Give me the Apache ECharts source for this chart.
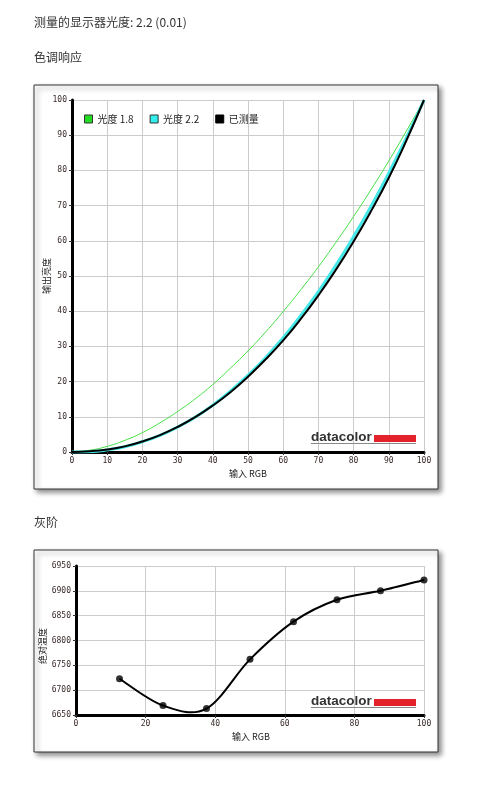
<!DOCTYPE html>
<html>
<head>
<meta charset="utf-8">
<script src="https://cdn.jsdelivr.net/npm/echarts@6/dist/echarts.min.js"></script>
<style>
html,body{margin:0;padding:0;background:#fff;}
#c{width:485px;height:790px;}
</style>
</head>
<body>
<div id="c"></div>
<script>
// Tone response chart data
const toneX = [0,5,10,15,20,25,30,35,40,45,50,55,60,65,70,75,80,85,90,95,100];
const gamma18 = [0,0.5,1.6,3.3,5.5,8.3,11.5,15.1,19.2,23.8,28.7,34.1,39.9,46.1,52.6,59.6,66.9,74.6,82.7,91.2,100];
const gamma22 = [0,0.1,0.6,1.5,2.9,4.7,7.1,9.9,13.3,17.3,21.8,26.8,32.5,38.8,45.6,53.1,61.2,69.9,79.3,89.3,100];
const measured = [0,0.2,0.7,1.6,3.0,4.8,7.1,9.9,13.2,17.0,21.4,26.3,31.7,37.8,44.5,51.8,59.8,68.5,77.9,88.5,100];
const legendNames = ['光度 1.8','光度 2.2','已测量'];

// Grayscale chart data
const grayX = [12.5,25,37.5,50,62.5,75,87.5,100];
const grayK = [6723,6669,6663,6762,6838,6882,6900,6922];

const chart = echarts.init(document.getElementById('c'));
const pair = (xs, ys) => xs.map((x,i)=>[x, ys[i]]);
const tickFont = {fontSize:8, color:'#3a2a2a', fontFamily:'DejaVu Sans Mono'};

function logo(x, yTop){
  return [
    {type:'text', left:x, top:yTop-3, z:5, style:{text:'datacolor', font:'bold 13.5px "Liberation Sans"', fill:'#333'}},
    {type:'rect', z:5, shape:{x:374, y:yTop+2, width:42, height:7}, style:{fill:'#e3222c'}},
    {type:'line', z:5, shape:{x1:311, y1:yTop+10.5, x2:416, y2:yTop+10.5}, style:{stroke:'#888', lineWidth:1}}
  ];
}

// Catmull-Rom curve through the grayscale points, drawn in pixel space via api.coord
function renderGrayCurve(params, api){
  if (params.dataIndex !== 0) return null;
  const pts = grayX.map((x,i)=>api.coord([x, grayK[i]]));
  const n = pts.length;
  let path = 'M' + pts[0][0] + ' ' + pts[0][1];
  for (let i = 0; i < n - 1; i++) {
    const p0 = pts[Math.max(i-1,0)], p1 = pts[i], p2 = pts[i+1], p3 = pts[Math.min(i+2,n-1)];
    const c1x = p1[0] + (p2[0]-p0[0])/6, c1y = p1[1] + (p2[1]-p0[1])/6;
    const c2x = p2[0] - (p3[0]-p1[0])/6, c2y = p2[1] - (p3[1]-p1[1])/6;
    path += ' C' + c1x + ' ' + c1y + ' ' + c2x + ' ' + c2y + ' ' + p2[0] + ' ' + p2[1];
  }
  return {type:'path', shape:{pathData:path}, style:{fill:'none', stroke:'#000', lineWidth:2}};
}

const option = {
  animation:false,
  backgroundColor:'#fff',
  graphic:[
    {type:'rect', z:0, shape:{x:34, y:85, width:404, height:404}, style:{fill:'#fff', stroke:'#333', lineWidth:1, shadowBlur:5, shadowOffsetX:3, shadowOffsetY:3, shadowColor:'rgba(0,0,0,0.45)'}},
    {type:'rect', z:0, shape:{x:34, y:550, width:404, height:202}, style:{fill:'#fff', stroke:'#333', lineWidth:1, shadowBlur:5, shadowOffsetX:3, shadowOffsetY:3, shadowColor:'rgba(0,0,0,0.45)'}},
    {type:'text', left:34, top:16, style:{text:'测量的显示器光度: 2.2 (0.01)', font:'12px "Noto Sans CJK SC"', fill:'#333'}},
    {type:'text', left:34, top:51, style:{text:'色调响应', font:'12px "Noto Sans CJK SC"', fill:'#333'}},
    {type:'text', left:34, top:516, style:{text:'灰阶', font:'12px "Noto Sans CJK SC"', fill:'#333'}},
    {type:'text', x:248, y:474, z:5, style:{text:'输入 RGB', font:'9px "Noto Sans CJK SC"', fill:'#222', align:'center', verticalAlign:'middle'}},
    {type:'text', x:251, y:737, z:5, style:{text:'输入 RGB', font:'9px "Noto Sans CJK SC"', fill:'#222', align:'center', verticalAlign:'middle'}},
    {type:'text', x:47, y:276, rotation:Math.PI/2, z:5, style:{text:'输出亮度', font:'9px "Noto Sans CJK SC"', fill:'#222', align:'center', verticalAlign:'middle'}},
    {type:'text', x:43, y:646, rotation:Math.PI/2, z:5, style:{text:'绝对温度', font:'9px "Noto Sans CJK SC"', fill:'#222', align:'center', verticalAlign:'middle'}}
  ].concat(logo(311, 433)).concat(logo(311, 697)),
  legend:{
    left:79, top:109, itemWidth:8, itemHeight:8, itemGap:16, icon:'rect',
    textStyle:{fontSize:10, color:'#222', fontFamily:'"Noto Sans CJK SC"'},
    data:[
      {name:legendNames[0], itemStyle:{color:'#22dd22', borderColor:'#333', borderWidth:1}},
      {name:legendNames[1], itemStyle:{color:'#33eeee', borderColor:'#333', borderWidth:1}},
      {name:legendNames[2], itemStyle:{color:'#000', borderColor:'#000', borderWidth:1}}
    ]
  },
  grid:[
    {left:72, top:100, width:352, height:352, show:true, borderColor:'#666', borderWidth:1, backgroundColor:'transparent'},
    {left:76, top:566, width:348, height:149, show:true, borderColor:'#666', borderWidth:1, backgroundColor:'transparent'}
  ],
  xAxis:[
    {gridIndex:0, type:'value', min:0, max:100, interval:10,
     axisLine:{lineStyle:{color:'#000', width:3}}, axisTick:{length:3, lineStyle:{color:'#333'}},
     axisLabel:Object.assign({margin:5}, tickFont), splitLine:{lineStyle:{color:'#ccc'}}},
    {gridIndex:1, type:'value', min:0, max:100, interval:20,
     axisLine:{lineStyle:{color:'#000', width:3}}, axisTick:{length:3, lineStyle:{color:'#333'}},
     axisLabel:Object.assign({margin:5}, tickFont), splitLine:{lineStyle:{color:'#ccc'}}}
  ],
  yAxis:[
    {gridIndex:0, type:'value', min:0, max:100, interval:10,
     axisLine:{show:true, lineStyle:{color:'#000', width:3}}, axisTick:{show:true, length:3, lineStyle:{color:'#333'}},
     axisLabel:Object.assign({margin:5}, tickFont), splitLine:{lineStyle:{color:'#ccc'}}},
    {gridIndex:1, type:'value', min:6650, max:6950, interval:50,
     axisLine:{show:true, lineStyle:{color:'#000', width:3}}, axisTick:{show:true, length:3, lineStyle:{color:'#333'}},
     axisLabel:Object.assign({margin:5, formatter:v=>String(v)}, tickFont), splitLine:{lineStyle:{color:'#ccc'}}}
  ],
  series:[
    {name:legendNames[0], type:'line', xAxisIndex:0, yAxisIndex:0, smooth:true, symbol:'none',
     data:pair(toneX, gamma18), lineStyle:{color:'#44e044', width:1}, itemStyle:{color:'#22dd22'}},
    {name:legendNames[1], type:'line', xAxisIndex:0, yAxisIndex:0, smooth:true, symbol:'none',
     data:pair(toneX, gamma22), lineStyle:{color:'#44e8e8', width:3}, itemStyle:{color:'#33eeee'}},
    {name:legendNames[2], type:'line', xAxisIndex:0, yAxisIndex:0, smooth:true, symbol:'none',
     data:pair(toneX, measured), lineStyle:{color:'#000', width:2}, itemStyle:{color:'#000'}},
    {name:'灰阶曲线', type:'custom', xAxisIndex:1, yAxisIndex:1, renderItem:renderGrayCurve,
     data:pair(grayX, grayK), encode:{x:0, y:1}, clip:false},
    {name:'灰阶', type:'scatter', xAxisIndex:1, yAxisIndex:1, symbol:'circle', symbolSize:7,
     data:pair(grayX, grayK), itemStyle:{color:'#000'}, z:3}
  ]
};
chart.setOption(option);
</script>
</body>
</html>
